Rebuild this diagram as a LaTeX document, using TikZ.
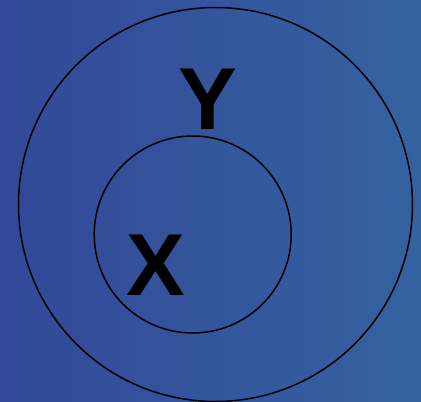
\documentclass[tikz,border=0pt]{standalone}
\usepackage{fontspec}
\setmainfont{Liberation Sans}
\definecolor{bgleft}{HTML}{334898}
\definecolor{bgright}{HTML}{3562A0}
\begin{document}
\begin{tikzpicture}[x=1pt,y=-1pt,
  ring/.style={draw=black,line width=1.5pt},
  lbl/.style={inner sep=0pt,anchor=base,font=\fontsize{88}{88}\selectfont\bfseries}]
\useasboundingbox (0,0) rectangle (421,402);
\shade[left color=bgleft,right color=bgright] (0,0) rectangle (421,402);
\draw[ring] (215.5,204.5) circle (197);
\draw[ring] (192.7,234.5) circle (98.5);
\node[lbl] (y) at (208.3,129) {Y};
\node[lbl] (x) at (155.7,295.7) {X};
\end{tikzpicture}
\end{document}
